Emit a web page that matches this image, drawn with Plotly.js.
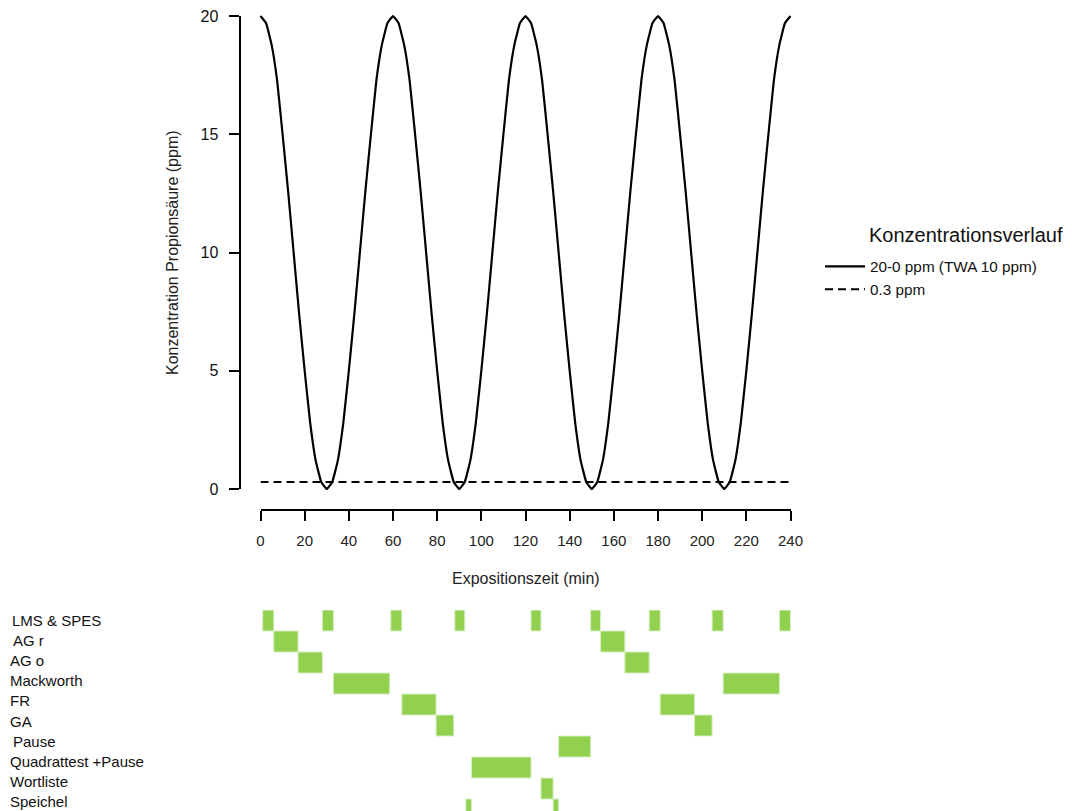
<!DOCTYPE html>
<html>
<head>
<meta charset="utf-8">
<script src="https://cdn.plot.ly/plotly-3.0.1.min.js"></script>
<style>html,body{margin:0;padding:0;background:#fff;}#chart{width:1072px;height:811px;}</style>
</head>
<body>
<div id="chart"></div>
<script>
// ---- data ----
var timeMin = [0,2.5,5,7.5,10,12.5,15,17.5,20,22.5,25,27.5,30,32.5,35,37.5,40,42.5,45,47.5,50,52.5,55,57.5,
  60,62.5,65,67.5,70,72.5,75,77.5,80,82.5,85,87.5,90,92.5,95,97.5,100,102.5,105,107.5,110,112.5,115,117.5,
  120,122.5,125,127.5,130,132.5,135,137.5,140,142.5,145,147.5,150,152.5,155,157.5,160,162.5,165,167.5,170,172.5,175,177.5,
  180,182.5,185,187.5,190,192.5,195,197.5,200,202.5,205,207.5,210,212.5,215,217.5,220,222.5,225,227.5,230,232.5,235,237.5,240];
var concPpm = [20,19.7,18.8,17.3,15.0,12.6,10.0,7.4,5.0,2.8,1.2,0.3,0,0.3,1.2,2.8,5.0,7.4,10.0,12.6,15.0,17.3,18.8,19.7,
  20,19.7,18.8,17.3,15.0,12.6,10.0,7.4,5.0,2.8,1.2,0.3,0,0.3,1.2,2.8,5.0,7.4,10.0,12.6,15.0,17.3,18.8,19.7,
  20,19.7,18.8,17.3,15.0,12.6,10.0,7.4,5.0,2.8,1.2,0.3,0,0.3,1.2,2.8,5.0,7.4,10.0,12.6,15.0,17.3,18.8,19.7,
  20,19.7,18.8,17.3,15.0,12.6,10.0,7.4,5.0,2.8,1.2,0.3,0,0.3,1.2,2.8,5.0,7.4,10.0,12.6,15.0,17.3,18.8,19.7,20];
var thresholdTime = [0,240];
var thresholdPpm = [0.3,0.3];
var seriesNames = ["20-0 ppm (TWA 10 ppm)","0.3 ppm"];
var legendTitle = "Konzentrationsverlauf";
var xTitle = "Expositionszeit (min)";
var yTitle = "Konzentration Propionsäure (ppm)";
var xTicks = [0,20,40,60,80,100,120,140,160,180,200,220,240];
var yTicks = [0,5,10,15,20];

var categories = ["LMS & SPES","AG r","AG o","Mackworth","FR","GA","Pause","Quadrattest +Pause","Wortliste","Speichel"];
var taskRow   = [0,0,0,0,0,0,0,0,0, 1,1, 2,2, 3,3, 4,4, 5,5, 6, 7, 8, 9,9];
var taskStart = [1,28,59,88,122.5,149.5,176,204.5,235, 6,154, 17,165, 33,209.5, 64,181, 79.5,196.5, 135, 95.5, 127, 93,132.5];
var taskEnd   = [6,33,64,92.5,127,154,181,209.5,240, 17,165, 28,176, 58.5,235, 79.5,196.5, 87.5,204.5, 149.5, 122.5, 132.5, 95.5,135];

// ---- layout helpers (pixels -> paper) ----
var W = 1072, H = 811;
function px(x){ return x / W; }
function py(y){ return 1 - y / H; }

var x0px = 260.5, x240px = 790.5, y20px = 16, y0px = 489;
var pxPerMin = (x240px - x0px) / 240;
var pxPerPpm = (y0px - y20px) / 20;
var plotLeft = 239.5, plotRight = 811.5, plotBottom = 510;

var traces = [
  {x: timeMin, y: concPpm, type: 'scatter', mode: 'lines', name: seriesNames[0],
   line: {color: '#000', width: 2.2, shape: 'spline', smoothing: 0.3}, xaxis: 'x', yaxis: 'y', hoverinfo: 'skip'},
  {x: thresholdTime, y: thresholdPpm, type: 'scatter', mode: 'lines', name: seriesNames[1],
   line: {color: '#000', width: 2, dash: '8px,5px'}, xaxis: 'x2', yaxis: 'y2', hoverinfo: 'skip'},
  {type: 'bar', orientation: 'h', y: taskRow, base: taskStart,
   x: taskStart.map(function(s, i){ return taskEnd[i] - s; }),
   width: 1, marker: {color: '#92d050', line: {color: '#d6efc2', width: 1}},
   xaxis: 'x3', yaxis: 'y3', showlegend: false, hoverinfo: 'skip'}
];

var annotations = [
  {text: xTitle, xref: 'paper', yref: 'paper', x: px((x0px + x240px) / 2), y: py(578), xanchor: 'center', yanchor: 'middle',
   showarrow: false, font: {family: 'Liberation Sans, Arial, sans-serif', size: 16, color: '#222'}},
  {text: yTitle, xref: 'paper', yref: 'paper', x: px(172), y: py(253), xanchor: 'center', yanchor: 'middle', textangle: -90,
   showarrow: false, font: {family: 'Liberation Sans, Arial, sans-serif', size: 16, color: '#222'}},
  {text: legendTitle, xref: 'paper', yref: 'paper', x: px(867), y: py(235), xanchor: 'left', yanchor: 'middle',
   showarrow: false, font: {family: 'Liberation Sans, Arial, sans-serif', size: 20, color: '#111'}}
];
var labelIndent = [2,3,0,0,0,0,3,0,0,0];
categories.forEach(function(c, i){
  annotations.push({text: c, xref: 'paper', yref: 'paper', x: px(8 + labelIndent[i]), y: py(620 + 20.2 * i),
    xanchor: 'left', yanchor: 'middle', showarrow: false,
    font: {family: 'Liberation Sans, Arial, sans-serif', size: 15, color: '#111'}});
});

var barTop = 610, rowH = 21;

var layout = {
  width: W, height: H,
  margin: {l: 0, r: 0, t: 0, b: 0},
  paper_bgcolor: '#fff', plot_bgcolor: 'rgba(0,0,0,0)',
  font: {family: 'Liberation Sans, Arial, sans-serif', color: '#111'},
  showlegend: true,
  legend: {x: px(820), y: py(250), xanchor: 'left', yanchor: 'top', bgcolor: 'rgba(0,0,0,0)',
    font: {size: 15.3, color: '#111'}, itemwidth: 40, tracegroupgap: 0},
  xaxis: {domain: [px(plotLeft), px(plotRight)],
    range: [-(x0px - plotLeft) / pxPerMin, 240 + (plotRight - x240px) / pxPerMin],
    visible: false, fixedrange: true},
  yaxis: {domain: [py(plotBottom), 1],
    range: [-(plotBottom - y0px) / pxPerPpm, 20 + y20px / pxPerPpm],
    visible: false, fixedrange: true},
  xaxis2: {domain: [px(x0px), px(x240px)], range: [0, 240], anchor: 'free', position: py(plotBottom),
    showline: true, linecolor: '#000', linewidth: 2, ticks: 'outside', ticklen: 10, tickwidth: 2, tickcolor: '#000',
    tickmode: 'array', tickvals: xTicks, ticktext: xTicks.map(String), ticklabelstandoff: 7,
    tickfont: {size: 15, color: '#222'}, showgrid: false, zeroline: false, fixedrange: true},
  yaxis2: {domain: [py(y0px), py(y20px)], range: [0, 20], anchor: 'free', position: px(plotLeft),
    showline: true, linecolor: '#000', linewidth: 2, ticks: 'outside', ticklen: 10, tickwidth: 2, tickcolor: '#000',
    tickmode: 'array', tickvals: yTicks, ticktext: yTicks.map(String), ticklabelstandoff: 7,
    tickfont: {size: 16, color: '#111'}, showgrid: false, zeroline: false, fixedrange: true},
  xaxis3: {domain: [px(x0px), px(x240px)], range: [0, 240], anchor: 'y3', visible: false, fixedrange: true},
  yaxis3: {domain: [0, py(barTop)], range: [-0.5 + (H - barTop) / rowH, -0.5], anchor: 'x3', visible: false, fixedrange: true},
  bargap: 0,
  annotations: annotations
};

Plotly.newPlot('chart', traces, layout, {displayModeBar: false, staticPlot: true});
</script>
</body>
</html>
